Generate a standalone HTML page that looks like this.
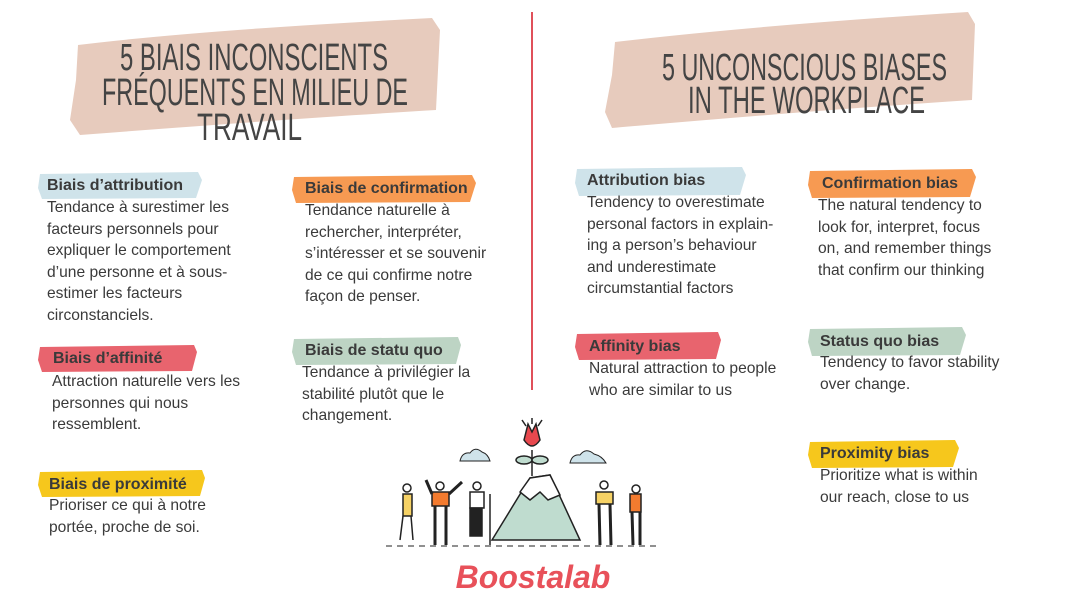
<!DOCTYPE html>
<html><head><meta charset="utf-8">
<style>
html,body{margin:0;padding:0;background:#fff;}
#page{position:relative;width:1067px;height:600px;overflow:hidden;background:#fff;font-family:"Liberation Sans",sans-serif;}
svg{position:absolute;left:0;top:0;}
.t{position:absolute;font-size:15.6px;line-height:21.6px;color:#3a3a3a;white-space:nowrap;}
.h{position:absolute;font-size:16px;font-weight:bold;color:#3a3a3a;white-space:nowrap;}
</style></head><body>
<div id="page">
<svg width="1067" height="600" viewBox="0 0 1067 600">
  <path d="M78 45 Q200 30 432 18 L440 30 L436 110 Q300 118 80 135 L70 120 L76 80 Z" fill="#e7cbbd"/>
  <path d="M615 42 Q760 25 968 12 L975 24 L972 100 Q820 110 612 128 L605 112 L612 75 Z" fill="#e7cbbd"/>
  <g font-family="Liberation Sans Narrow, Liberation Sans, sans-serif" fill="#444" font-size="38">
    <text x="120" y="70" textLength="268" lengthAdjust="spacingAndGlyphs">5 BIAIS INCONSCIENTS</text>
    <text x="102" y="105" textLength="306" lengthAdjust="spacingAndGlyphs">FRÉQUENTS EN MILIEU DE</text>
    <text x="197" y="140" textLength="105" lengthAdjust="spacingAndGlyphs">TRAVAIL</text>
    <text x="662" y="80" textLength="285" lengthAdjust="spacingAndGlyphs">5 UNCONSCIOUS BIASES</text>
    <text x="688" y="113" textLength="237" lengthAdjust="spacingAndGlyphs">IN THE WORKPLACE</text>
  </g>
  <line x1="532" y1="12" x2="532" y2="390" stroke="#e0505a" stroke-width="2"/>
  <g>
    <path d="M40 174 L198 172 L202 180 L196 198 L42 199 L38 188 Z" fill="#cfe3ea"/>
    <path d="M40 347 L194 345 L197 352 L192 371 L42 372 L38 360 Z" fill="#e8646e"/>
    <path d="M40 472 L202 470 L205 478 L200 496 L42 497 L38 485 Z" fill="#f6c71c"/>
    <path d="M294 177 L472 175 L476 183 L470 202 L296 203 L292 190 Z" fill="#f79a52"/>
    <path d="M294 339 L458 337 L461 345 L456 364 L296 365 L292 352 Z" fill="#bdd4c4"/>
    <path d="M577 169 L742 167 L746 175 L740 195 L579 196 L575 183 Z" fill="#cfe3ea"/>
    <path d="M810 171 L972 169 L976 177 L970 197 L812 198 L808 185 Z" fill="#f79a52"/>
    <path d="M577 334 L718 332 L721 340 L716 359 L579 360 L575 347 Z" fill="#e8646e"/>
    <path d="M810 329 L962 327 L966 335 L960 355 L812 356 L808 342 Z" fill="#bdd4c4"/>
    <path d="M810 442 L955 440 L959 448 L953 467 L812 468 L808 455 Z" fill="#f6c71c"/>
  </g>
  <g stroke="#222" stroke-width="1.5">
    <path d="M492 540 L530 478 L550 475 L580 540 Z" fill="#bfdccf"/>
    <path d="M520 492 L530 478 L550 475 L560 495 L548 500 L540 492 L530 500 Z" fill="#fff"/>
    <line x1="532" y1="476" x2="532" y2="450"/>
    <path d="M524 440 L528 424 L532 432 L536 424 L540 440 Q532 452 524 440 Z" fill="#e8484e"/>
    <ellipse cx="524" cy="460" rx="8" ry="4" fill="#bfdccf"/>
    <ellipse cx="540" cy="460" rx="8" ry="4" fill="#bfdccf"/>
    <line x1="532" y1="418" x2="532" y2="424"/><line x1="522" y1="420" x2="526" y2="426"/><line x1="542" y1="420" x2="538" y2="426"/>
    <path d="M460 461 Q462 452 470 453 Q475 446 482 452 Q488 454 490 461 Z" fill="#cfe3ea" stroke-width="1"/>
    <path d="M570 463 Q572 454 580 455 Q586 447 594 454 Q602 456 606 463 Z" fill="#cfe3ea" stroke-width="1"/>
    <line x1="386" y1="546" x2="660" y2="546" stroke-dasharray="6 5" stroke-width="1"/>
    <circle cx="407" cy="488" r="4" fill="#fff"/><rect x="403" y="494" width="9" height="22" fill="#f6d265"/><path d="M403 516 L400 540 M411 516 L413 540" fill="none"/>
    <circle cx="440" cy="486" r="4" fill="#fff"/><rect x="432" y="492" width="17" height="14" fill="#f37b2f"/><path d="M432 494 L426 480 M449 494 L462 482 M435 506 L435 545 M446 506 L446 545" fill="none" stroke-width="3"/>
    <circle cx="477" cy="486" r="4" fill="#fff"/><rect x="470" y="492" width="14" height="16" fill="#fff"/><rect x="470" y="508" width="12" height="28" fill="#222"/><line x1="490" y1="494" x2="490" y2="545"/>
    <circle cx="604" cy="485" r="4" fill="#fff"/><rect x="596" y="492" width="17" height="12" fill="#f6d265"/><path d="M599 504 L600 545 M610 504 L611 545" fill="none" stroke-width="3"/>
    <circle cx="636" cy="489" r="4" fill="#fff"/><rect x="630" y="494" width="11" height="18" fill="#f37b2f"/><path d="M632 512 L633 545 M640 512 L640 545" fill="none" stroke-width="3"/>
  </g>
  <text x="533" y="588" text-anchor="middle" font-family="Liberation Sans, sans-serif" font-style="italic" font-weight="bold" font-size="32" fill="#e8515a">Boostalab</text>
</svg>

<div class="h" style="left:47px;top:177px;">Biais d’attribution</div>
<div class="t" style="left:47px;top:197px;">Tendance à surestimer les<br>facteurs personnels pour<br>expliquer le comportement<br>d’une personne et à sous-<br>estimer les facteurs<br>circonstanciels.</div>

<div class="h" style="left:53px;top:350px;">Biais d’affinité</div>
<div class="t" style="left:52px;top:371px;">Attraction naturelle vers les<br>personnes qui nous<br>ressemblent.</div>

<div class="h" style="left:49px;top:476px;">Biais de proximité</div>
<div class="t" style="left:49px;top:495px;">Prioriser ce qui à notre<br>portée, proche de soi.</div>

<div class="h" style="left:305px;top:180px;">Biais de confirmation</div>
<div class="t" style="left:305px;top:200px;">Tendance naturelle à<br>rechercher, interpréter,<br>s’intéresser et se souvenir<br>de ce qui confirme notre<br>façon de penser.</div>

<div class="h" style="left:305px;top:342px;">Biais de statu quo</div>
<div class="t" style="left:302px;top:362px;">Tendance à privilégier la<br>stabilité plutôt que le<br>changement.</div>

<div class="h" style="left:587px;top:172px;">Attribution bias</div>
<div class="t" style="left:587px;top:192px;">Tendency to overestimate<br>personal factors in explain-<br>ing a person’s behaviour<br>and underestimate<br>circumstantial factors</div>

<div class="h" style="left:822px;top:175px;">Confirmation bias</div>
<div class="t" style="left:818px;top:195px;">The natural tendency to<br>look for, interpret, focus<br>on, and remember things<br>that confirm our thinking</div>

<div class="h" style="left:589px;top:338px;">Affinity bias</div>
<div class="t" style="left:589px;top:358px;">Natural attraction to people<br>who are similar to us</div>

<div class="h" style="left:820px;top:333px;">Status quo bias</div>
<div class="t" style="left:820px;top:352px;">Tendency to favor stability<br>over change.</div>

<div class="h" style="left:820px;top:445px;">Proximity bias</div>
<div class="t" style="left:820px;top:465px;">Prioritize what is within<br>our reach, close to us</div>
</div>
</body></html>
